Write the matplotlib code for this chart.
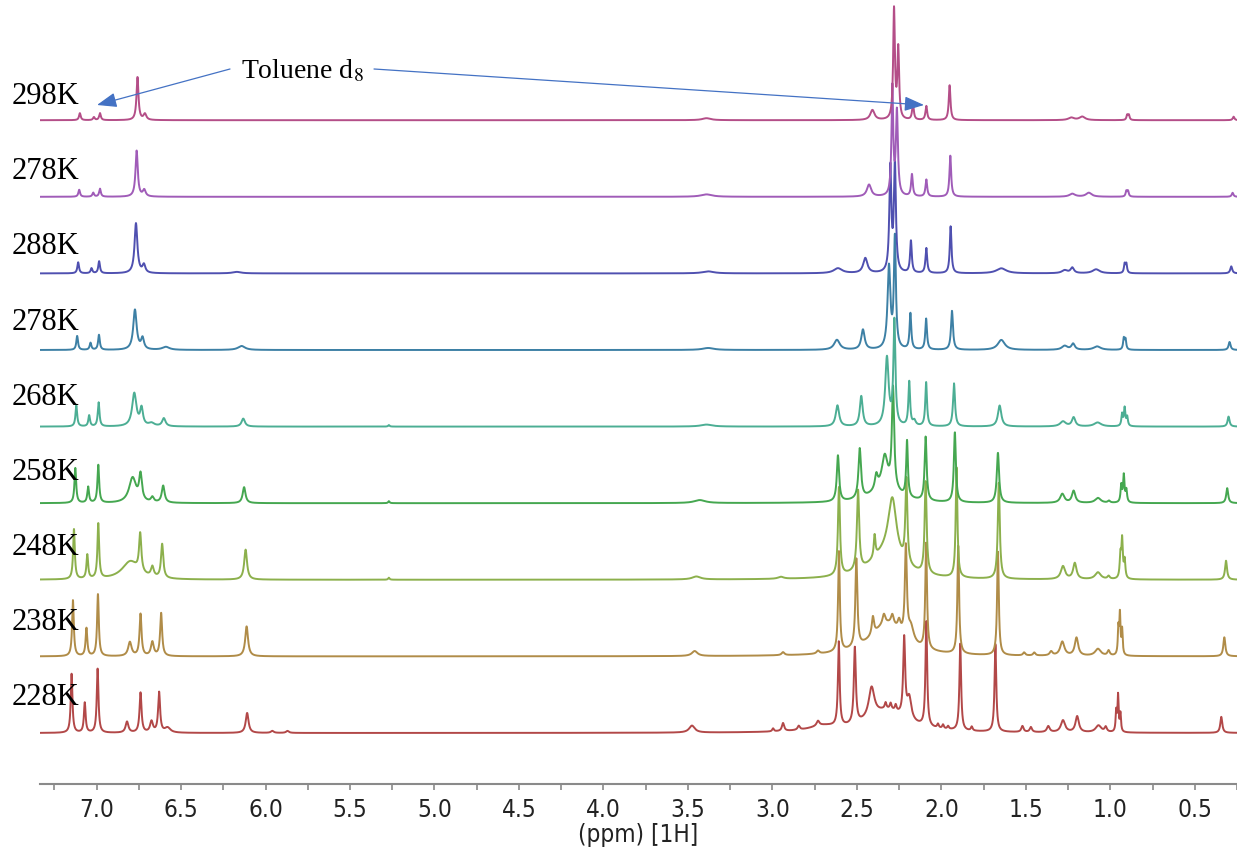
import numpy as np
import matplotlib
matplotlib.use("Agg")
import matplotlib.pyplot as plt
from matplotlib.ticker import MultipleLocator, FormatStrFormatter

# stacked VT 1H NMR spectra, bottom (228K) to top (298K)
temps = ["228K", "238K", "248K", "258K", "268K", "278K", "288K", "278K", "298K"]
colors = ["#b24848", "#b08c48", "#8cb04c", "#45a750", "#4cae94",
          "#3d80a5", "#4f50b0", "#a05cb8", "#b44e88"]

# peak lists: position (ppm), height (a.u.), half width (ppm)
pos_228 = [7.148, 7.07, 6.994, 6.82, 6.74, 6.675, 6.63, 6.58, 6.109, 5.96, 5.87,
           3.476, 2.996, 2.937, 2.844, 2.73, 2.70, 2.607, 2.512, 2.413, 2.33, 2.30,
           2.27, 2.32, 2.22, 2.19, 2.089, 2.02, 1.99, 1.96, 1.888, 1.82, 1.68,
           1.52, 1.47, 1.367, 1.28, 1.196, 1.07, 1.027, 0.965, 0.954, 0.94, 0.343]
hgt_228 = [59, 30, 64, 11, 40, 11, 40, 5, 20, 2, 2,
           7, 3, 8, 4, 5, 5, 84, 76, 30, 6, 6,
           6, 22, 78, 22, 105, 4, 4, 3, 87, 4, 88,
           6, 5, 6, 12, 16, 7, 5, 20, 36, 18, 16]
wid_228 = [0.006, 0.006, 0.006, 0.01, 0.007, 0.01, 0.007, 0.02, 0.01, 0.01, 0.01,
           0.02, 0.006, 0.008, 0.008, 0.01, 0.1, 0.006, 0.007, 0.02, 0.006, 0.006,
           0.006, 0.14, 0.007, 0.015, 0.006, 0.006, 0.006, 0.006, 0.006, 0.006, 0.006,
           0.008, 0.008, 0.01, 0.015, 0.012, 0.02, 0.008, 0.004, 0.004, 0.004, 0.007]

pos_238 = [7.14, 7.06, 6.992, 6.803, 6.74, 6.67, 6.618, 6.112, 3.46, 2.937, 2.73,
           2.606, 2.503, 2.405, 2.34, 2.29, 2.25, 2.32, 2.21, 2.18, 2.09, 1.90, 1.665,
           1.51, 1.45, 1.35, 1.284, 1.20, 1.073, 1.01, 0.952, 0.943, 0.93, 0.325]
hgt_238 = [56, 28, 62, 14, 42, 14, 43, 30, 5, 3, 3,
           100, 88, 18, 10, 10, 10, 32, 90, 15, 106, 108, 104,
           3, 3, 4, 14, 18, 7, 5, 26, 40, 25, 19]
wid_238 = [0.006, 0.006, 0.006, 0.012, 0.007, 0.01, 0.007, 0.01, 0.02, 0.01, 0.01,
           0.006, 0.007, 0.008, 0.01, 0.01, 0.01, 0.12, 0.007, 0.02, 0.006, 0.006, 0.006,
           0.008, 0.008, 0.01, 0.015, 0.012, 0.02, 0.008, 0.004, 0.004, 0.004, 0.007]

pos_248 = [7.134, 7.055, 6.99, 6.80, 6.742, 6.67, 6.612, 6.118, 5.27, 3.45, 2.95,
           2.606, 2.493, 2.395, 2.33, 2.29, 2.207, 2.093, 1.91, 1.66,
           1.28, 1.21, 1.073, 1.01, 0.94, 0.93, 0.915, 0.315]
hgt_248 = [50, 24, 55, 18, 38, 10, 34, 30, 2, 3, 2,
           88, 80, 22, 24, 60, 84, 92, 110, 96,
           13, 16, 7, 3, 22, 38, 18, 19]
wid_248 = [0.006, 0.006, 0.006, 0.06, 0.008, 0.01, 0.008, 0.01, 0.005, 0.03, 0.02,
           0.007, 0.008, 0.006, 0.12, 0.03, 0.007, 0.007, 0.006, 0.007,
           0.015, 0.012, 0.02, 0.008, 0.005, 0.005, 0.005, 0.007]

pos_258 = [7.126, 7.05, 6.99, 6.787, 6.74, 6.67, 6.606, 6.127, 5.27, 3.43,
           2.612, 2.483, 2.385, 2.335, 2.33, 2.286, 2.203, 2.093, 1.92, 1.665,
           1.284, 1.217, 1.073, 1.008, 0.935, 0.92, 0.905, 0.308]
hgt_258 = [35, 16, 38, 25, 26, 5, 17, 16, 2, 3,
           46, 50, 14, 30, 16, 100, 56, 64, 70, 50,
           9, 12, 5, 2, 17, 27, 12, 15]
wid_258 = [0.006, 0.006, 0.006, 0.025, 0.01, 0.01, 0.01, 0.01, 0.005, 0.04,
           0.008, 0.009, 0.01, 0.02, 0.09, 0.008, 0.006, 0.007, 0.007, 0.008,
           0.015, 0.012, 0.02, 0.008, 0.005, 0.005, 0.005, 0.007]

pos_268 = [7.12, 7.044, 6.988, 6.777, 6.734, 6.675, 6.602, 6.132, 5.27, 3.39,
           2.615, 2.474, 2.322, 2.278, 2.19, 2.16, 2.09, 1.925, 1.655,
           1.28, 1.217, 1.075, 0.93, 0.915, 0.90, 0.30]
hgt_268 = [21, 11, 24, 33, 17, 3, 8, 8, 1.5, 2,
           21, 30, 68, 104, 44, 5, 44, 43, 21,
           5, 9, 4, 12, 18, 9, 10]
wid_268 = [0.006, 0.006, 0.006, 0.015, 0.01, 0.02, 0.012, 0.012, 0.005, 0.04,
           0.012, 0.01, 0.012, 0.007, 0.006, 0.01, 0.006, 0.007, 0.012,
           0.02, 0.012, 0.025, 0.005, 0.005, 0.005, 0.007]

pos_278b = [7.115, 7.036, 6.986, 6.773, 6.728, 6.59, 6.142, 3.38,
            2.618, 2.464, 2.31, 2.275, 2.183, 2.09, 1.937, 1.645,
            1.27, 1.22, 1.078, 0.92, 0.91, 0.294]
hgt_278b = [14, 7, 15, 40, 11, 3, 4, 2,
            10, 20, 82, 110, 36, 31, 39, 10,
            4, 6, 3.5, 11, 10, 8]
wid_278b = [0.006, 0.006, 0.006, 0.012, 0.01, 0.025, 0.025, 0.04,
            0.02, 0.012, 0.01, 0.007, 0.006, 0.006, 0.007, 0.025,
            0.02, 0.012, 0.025, 0.005, 0.005, 0.007]

pos_288 = [7.109, 7.03, 6.985, 6.767, 6.72, 6.17, 3.38,
           2.612, 2.45, 2.302, 2.275, 2.18, 2.089, 1.945, 1.645,
           1.27, 1.225, 1.084, 0.915, 0.905, 0.284]
hgt_288 = [11, 5, 12, 50, 8, 1.5, 2,
           5, 15, 104, 108, 32, 25, 47, 5,
           3, 5.5, 4, 9, 9, 7]
wid_288 = [0.006, 0.006, 0.006, 0.01, 0.01, 0.03, 0.04,
           0.03, 0.015, 0.007, 0.007, 0.006, 0.006, 0.006, 0.035,
           0.02, 0.012, 0.025, 0.005, 0.005, 0.007]

pos_278a = [7.103, 7.02, 6.98, 6.763, 6.718, 3.39, 2.428, 2.29, 2.263,
            2.174, 2.089, 1.947, 1.225, 1.127, 0.905, 0.895, 0.276]
hgt_278a = [7, 4, 8, 46, 6.5, 2.4, 12, 108, 84, 22, 17, 41, 3, 4, 5.5, 5.5, 4]
wid_278a = [0.006, 0.006, 0.006, 0.008, 0.01, 0.04, 0.015, 0.006, 0.007,
            0.006, 0.006, 0.006, 0.02, 0.02, 0.005, 0.005, 0.006]

pos_298 = [7.099, 7.016, 6.98, 6.758, 6.714, 3.39, 2.408, 2.280, 2.255,
           2.168, 2.089, 1.951, 1.231, 1.166, 0.90, 0.89, 0.27]
hgt_298 = [7, 3, 7, 43, 6, 2, 10, 110, 70, 16, 14, 35, 2.5, 3.5, 5, 5, 3.5]
wid_298 = [0.006, 0.006, 0.006, 0.007, 0.01, 0.03, 0.015, 0.006, 0.006,
           0.006, 0.006, 0.006, 0.02, 0.02, 0.005, 0.005, 0.006]

peaks = [(pos_228, hgt_228, wid_228), (pos_238, hgt_238, wid_238),
         (pos_248, hgt_248, wid_248), (pos_258, hgt_258, wid_258),
         (pos_268, hgt_268, wid_268), (pos_278b, hgt_278b, wid_278b),
         (pos_288, hgt_288, wid_288), (pos_278a, hgt_278a, wid_278a),
         (pos_298, hgt_298, wid_298)]

step = 76.6  # vertical offset between spectra


def spectrum(x, pos, hgt, wid):
    y = np.zeros_like(x)
    for p, h, w in zip(pos, hgt, wid):
        y += h * w ** 2 / ((x - p) ** 2 + w ** 2)
    return y


plt.rcParams['mathtext.fontset'] = 'stix'

fig = plt.figure(figsize=(12.37, 8.52), dpi=100)
ax = fig.add_axes([40 / 1237, 68 / 852, 1197 / 1237, 784 / 852])

x = np.linspace(7.335, 0.25, 8000)
for i, (pos, hgt, wid) in enumerate(peaks):
    y = spectrum(x, pos, hgt, wid) + i * step
    ax.plot(x, y, color=colors[i], lw=1.4)
    ax.text(7.50, 28 + i * 75.1, temps[i], family='Liberation Serif',
            fontsize=22, ha='left', va='baseline', clip_on=False)

ax.set_xlim(7.335, 0.25)
ax.set_ylim(-51, 733)

for s in ['top', 'left', 'right']:
    ax.spines[s].set_visible(False)
ax.spines['bottom'].set_color('#8a8a8a')
ax.spines['bottom'].set_linewidth(1.5)
ax.set_yticks([])
ax.xaxis.set_major_locator(MultipleLocator(0.5))
ax.xaxis.set_minor_locator(MultipleLocator(0.25))
ax.xaxis.set_major_formatter(FormatStrFormatter('%.1f'))
ax.tick_params(axis='x', which='both', direction='out', length=4,
               width=1.2, color='#8a8a8a', labelsize=17.5, pad=6,
               labelcolor='#222222')
for lbl in ax.get_xticklabels():
    lbl.set_fontstretch('condensed')
ax.set_xlabel('(ppm) [1H]', fontsize=17.5, color='#222222', labelpad=1,
              fontstretch='condensed')

# solvent annotation
ax.text(241 / 1237, 1 - 78 / 852, 'Toluene d$_8$', transform=fig.transFigure,
        family='Liberation Serif', fontsize=20, ha='left', va='baseline')
arrow = dict(arrowstyle='-|>,head_length=1.2,head_width=0.45', color='#4472c4',
             lw=0.9, shrinkA=0, shrinkB=0)
ax.annotate('', xy=(97 / 1237, 1 - 105 / 852), xytext=(230 / 1237, 1 - 69 / 852),
            xycoords='figure fraction', textcoords='figure fraction',
            arrowprops=arrow)
ax.annotate('', xy=(924 / 1237, 1 - 105 / 852), xytext=(374 / 1237, 1 - 69 / 852),
            xycoords='figure fraction', textcoords='figure fraction',
            arrowprops=arrow)

fig.savefig('out.png', dpi=100)
